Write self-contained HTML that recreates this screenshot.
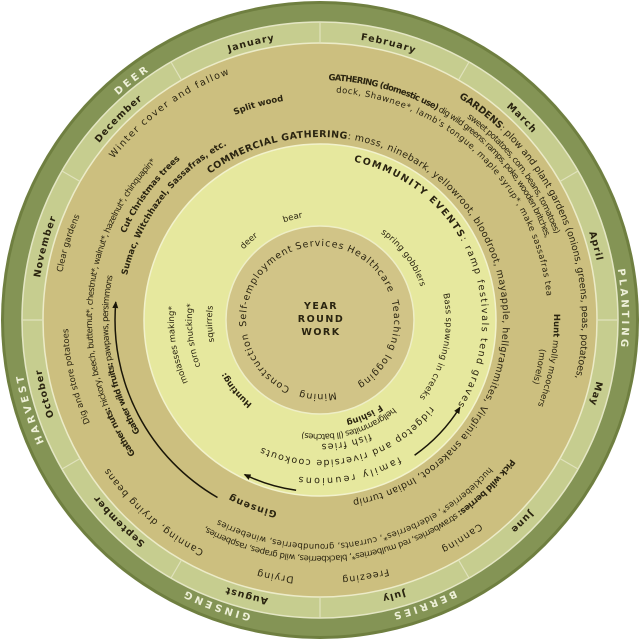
<!DOCTYPE html>
<html><head><meta charset="utf-8"><style>
html,body{margin:0;padding:0;background:#fff;}
svg{display:block;}
text{font-family:"DejaVu Sans","Liberation Sans",sans-serif;fill:#2a2410;}
.m{font-size:9.5px;font-weight:bold;letter-spacing:1px;}
.s{font-size:10px;font-weight:bold;fill:#eef0d8;letter-spacing:3px;}
.t{font-size:8.5px;}
.b{font-size:8.5px;font-weight:bold;}
.w{font-size:9.5px;letter-spacing:1px;}
</style></head><body>
<svg width="640" height="640" viewBox="0 0 640 640" xmlns="http://www.w3.org/2000/svg">
<defs>
<path id="r302" d="M320,18a302,302 0 1 1 0,604a302,302 0 1 1 0,-604a302,302 0 1 1 0,604a302,302 0 1 1 0,-604"/>
<path id="r283" d="M320,37a283,283 0 1 1 0,566a283,283 0 1 1 0,-566a283,283 0 1 1 0,566a283,283 0 1 1 0,-566"/>
<path id="r262" d="M320,58a262,262 0 1 1 0,524a262,262 0 1 1 0,-524a262,262 0 1 1 0,524a262,262 0 1 1 0,-524"/>
<path id="r258" d="M320,62a258,258 0 1 1 0,516a258,258 0 1 1 0,-516a258,258 0 1 1 0,516a258,258 0 1 1 0,-516"/>
<path id="r252" d="M320,68a252,252 0 1 1 0,504a252,252 0 1 1 0,-504a252,252 0 1 1 0,504a252,252 0 1 1 0,-504"/>
<path id="r250" d="M320,70a250,250 0 1 1 0,500a250,250 0 1 1 0,-500a250,250 0 1 1 0,500a250,250 0 1 1 0,-500"/>
<path id="r240" d="M320,80a240,240 0 1 1 0,480a240,240 0 1 1 0,-480a240,240 0 1 1 0,480a240,240 0 1 1 0,-480"/>
<path id="r236" d="M320,84a236,236 0 1 1 0,472a236,236 0 1 1 0,-472a236,236 0 1 1 0,472a236,236 0 1 1 0,-472"/>
<path id="r234" d="M320,86a234,234 0 1 1 0,468a234,234 0 1 1 0,-468a234,234 0 1 1 0,468a234,234 0 1 1 0,-468"/>
<path id="r228" d="M320,92a228,228 0 1 1 0,456a228,228 0 1 1 0,-456a228,228 0 1 1 0,456a228,228 0 1 1 0,-456"/>
<path id="r224" d="M320,96a224,224 0 1 1 0,448a224,224 0 1 1 0,-448a224,224 0 1 1 0,448a224,224 0 1 1 0,-448"/>
<path id="r222" d="M320,98a222,222 0 1 1 0,444a222,222 0 1 1 0,-444a222,222 0 1 1 0,444a222,222 0 1 1 0,-444"/>
<path id="r213" d="M320,107a213,213 0 1 1 0,426a213,213 0 1 1 0,-426a213,213 0 1 1 0,426a213,213 0 1 1 0,-426"/>
<path id="r212" d="M320,108a212,212 0 1 1 0,424a212,212 0 1 1 0,-424a212,212 0 1 1 0,424a212,212 0 1 1 0,-424"/>
<path id="r198" d="M320,122a198,198 0 1 1 0,396a198,198 0 1 1 0,-396a198,198 0 1 1 0,396a198,198 0 1 1 0,-396"/>
<path id="r196" d="M320,124a196,196 0 1 1 0,392a196,196 0 1 1 0,-392a196,196 0 1 1 0,392a196,196 0 1 1 0,-392"/>
<path id="r183" d="M320,137a183,183 0 1 1 0,366a183,183 0 1 1 0,-366a183,183 0 1 1 0,366a183,183 0 1 1 0,-366"/>
<path id="r162" d="M320,158a162,162 0 1 1 0,324a162,162 0 1 1 0,-324a162,162 0 1 1 0,324a162,162 0 1 1 0,-324"/>
<path id="r158" d="M320,162a158,158 0 1 1 0,316a158,158 0 1 1 0,-316a158,158 0 1 1 0,316a158,158 0 1 1 0,-316"/>
<path id="r146" d="M320,174a146,146 0 1 1 0,292a146,146 0 1 1 0,-292a146,146 0 1 1 0,292a146,146 0 1 1 0,-292"/>
<path id="r140" d="M320,180a140,140 0 1 1 0,280a140,140 0 1 1 0,-280a140,140 0 1 1 0,280a140,140 0 1 1 0,-280"/>
<path id="r128" d="M320,192a128,128 0 1 1 0,256a128,128 0 1 1 0,-256a128,128 0 1 1 0,256a128,128 0 1 1 0,-256"/>
<path id="r126" d="M320,194a126,126 0 1 1 0,252a126,126 0 1 1 0,-252a126,126 0 1 1 0,252a126,126 0 1 1 0,-252"/>
<path id="r124" d="M320,196a124,124 0 1 1 0,248a124,124 0 1 1 0,-248a124,124 0 1 1 0,248a124,124 0 1 1 0,-248"/>
<path id="r114" d="M320,206a114,114 0 1 1 0,228a114,114 0 1 1 0,-228a114,114 0 1 1 0,228a114,114 0 1 1 0,-228"/>
<path id="r108" d="M320,212a108,108 0 1 1 0,216a108,108 0 1 1 0,-216a108,108 0 1 1 0,216a108,108 0 1 1 0,-216"/>
<path id="r106" d="M320,214a106,106 0 1 1 0,212a106,106 0 1 1 0,-212a106,106 0 1 1 0,212a106,106 0 1 1 0,-212"/>
<path id="r104" d="M320,216a104,104 0 1 1 0,208a104,104 0 1 1 0,-208a104,104 0 1 1 0,208a104,104 0 1 1 0,-208"/>
<path id="r74" d="M320,246a74,74 0 1 1 0,148a74,74 0 1 1 0,-148a74,74 0 1 1 0,148a74,74 0 1 1 0,-148"/>
<marker id="ah" markerWidth="8" markerHeight="8" refX="6" refY="4" orient="auto" markerUnits="userSpaceOnUse"><path d="M0,1 L7,4 L0,7 z" fill="#1a1608"/></marker>
</defs>

<circle cx="320" cy="320" r="319" fill="#6f7f40"/>
<circle cx="320" cy="320" r="316" fill="#849455"/>
<circle cx="320" cy="320" r="298" fill="#c6cd8f" stroke="#e4e6c4" stroke-width="1.5"/>
<circle cx="320" cy="320" r="277" fill="#ccbf7f" stroke="#ecebc8" stroke-width="1.5"/>
<g stroke="#e0e2bc" stroke-width="1.2">
<line x1="320" y1="22" x2="320" y2="43"/>
<line x1="469" y1="62" x2="458.5" y2="80.1"/>
<line x1="578" y1="171" x2="559.9" y2="181.5"/>
<line x1="618" y1="320" x2="597" y2="320"/>
<line x1="578" y1="469" x2="559.9" y2="458.5"/>
<line x1="469" y1="578" x2="458.5" y2="559.9"/>
<line x1="320" y1="618" x2="320" y2="597"/>
<line x1="171" y1="578" x2="181.5" y2="559.9"/>
<line x1="62" y1="469" x2="80.1" y2="458.5"/>
<line x1="22" y1="320" x2="43" y2="320"/>
<line x1="62" y1="171" x2="80.1" y2="181.5"/>
<line x1="171" y1="62" x2="181.5" y2="80.1"/>
</g>
<circle cx="320" cy="320" r="176" fill="#e6e89e" stroke="#f2f2cc" stroke-width="1.5"/>
<circle cx="320" cy="320" r="94" fill="#d1c487" stroke="#eeeec6" stroke-width="1.5"/>

<text class="s"><textPath href="#r302" startOffset="44.72%" text-anchor="middle">DEER</textPath></text>
<text class="s"><textPath href="#r302" startOffset="62.22%" text-anchor="middle">PLANTING</textPath></text>
<text class="s"><textPath href="#r302" startOffset="72.22%" text-anchor="middle">BERRIES</textPath></text>
<text class="s"><textPath href="#r302" startOffset="77.78%" text-anchor="middle">GINSENG</textPath></text>
<text class="s"><textPath href="#r302" startOffset="85.14%" text-anchor="middle">HARVEST</textPath></text>

<text class="m"><textPath href="#r283" startOffset="48.06%" text-anchor="middle">January</textPath></text>
<text class="m"><textPath href="#r283" startOffset="51.94%" text-anchor="middle">February</textPath></text>
<text class="m"><textPath href="#r283" startOffset="56.25%" text-anchor="middle">March</textPath></text>
<text class="m"><textPath href="#r283" startOffset="60.42%" text-anchor="middle">April</textPath></text>
<text class="m"><textPath href="#r283" startOffset="64.58%" text-anchor="middle">May</textPath></text>
<text class="m"><textPath href="#r283" startOffset="68.75%" text-anchor="middle">June</textPath></text>
<text class="m"><textPath href="#r283" startOffset="72.92%" text-anchor="middle">July</textPath></text>
<text class="m"><textPath href="#r283" startOffset="77.08%" text-anchor="middle">August</textPath></text>
<text class="m"><textPath href="#r283" startOffset="81.25%" text-anchor="middle">September</textPath></text>
<text class="m"><textPath href="#r283" startOffset="85.42%" text-anchor="middle">October</textPath></text>
<text class="m"><textPath href="#r283" startOffset="89.58%" text-anchor="middle">November</textPath></text>
<text class="m"><textPath href="#r283" startOffset="43.75%" text-anchor="middle">December</textPath></text>

<text class="w"><textPath href="#r262" startOffset="54.44%" textLength="325" lengthAdjust="spacing"><tspan font-weight="bold">GARDENS</tspan>: plow and plant gardens (onions, greens, peas, potatoes,</textPath></text>
<text class="t"><textPath href="#r250" startOffset="55%" textLength="148" lengthAdjust="spacing">sweet potatoes, corn, beans, tomatoes)</textPath></text>
<text class="t"><textPath href="#r240" startOffset="50.28%" textLength="285" lengthAdjust="spacing"><tspan font-weight="bold">GATHERING (domestic use)</tspan> dig wild greens: ramps, poke, wooden britches,</textPath></text>
<text class="t"><textPath href="#r228" startOffset="50.56%" textLength="318" lengthAdjust="spacing">dock, Shawnee*, lamb's tongue, maple syrup*, make sassafras tea</textPath></text>
<text class="w"><textPath href="#r183" startOffset="44.86%" textLength="661" lengthAdjust="spacing"><tspan font-weight="bold">COMMERCIAL GATHERING</tspan>: moss, ninebark, yellowroot, bloodroot, mayapple, hellgrammites, Virginia snakeroot, Indian turnip</textPath></text>
<text class="w"><textPath href="#r262" startOffset="42.78%" textLength="146" lengthAdjust="spacing">Winter cover and fallow</textPath></text>
<text class="t"><textPath href="#r262" startOffset="39.86%" text-anchor="middle">Clear gardens</textPath></text>
<text class="t"><textPath href="#r252" startOffset="85.69%" text-anchor="middle">Dig and store potatoes</textPath></text>
<text class="t"><textPath href="#r228" startOffset="82.5%" textLength="318" lengthAdjust="spacing"><tspan font-weight="bold">Gather nuts:</tspan> hickory, beech, butternut*, chestnut*, walnut*, hazelnut*, chinquapin*</textPath></text>
<text class="t"><textPath href="#r212" startOffset="83.06%" textLength="163" lengthAdjust="spacing"><tspan font-weight="bold">Gather wild fruits:</tspan> pawpaws, persimmons</textPath></text>
<text class="b"><textPath href="#r198" startOffset="39.31%" textLength="169" lengthAdjust="spacing">Sumac, Witchhazel, Sassafras, etc.</textPath></text>
<text class="b"><textPath href="#r213" startOffset="40.83%" textLength="93" lengthAdjust="spacing">Cut Christmas trees</textPath></text>
<text class="b"><textPath href="#r222" startOffset="47.78%" text-anchor="middle">Split wood</textPath></text>
<text class="t"><textPath href="#r234" startOffset="63.89%" text-anchor="middle"><tspan font-weight="bold">Hunt</tspan> molly moochers</textPath></text>
<text class="t"><textPath href="#r222" startOffset="64.17%" text-anchor="middle">(morels)</textPath></text>
<text class="t"><textPath href="#r236" startOffset="67.5%" textLength="342" lengthAdjust="spacing"><tspan font-weight="bold">Pick wild berries:</tspan> strawberries, red mulberries*, blackberries, wild grapes, raspberries,</textPath></text>
<text class="t"><textPath href="#r224" startOffset="68.19%" textLength="297" lengthAdjust="spacing">huckleberries*, elderberries*, currants, groundberries, wineberries</textPath></text>
<text class="w"><textPath href="#r258" startOffset="70.42%" text-anchor="middle">Canning</textPath></text>
<text class="w"><textPath href="#r258" startOffset="73.61%" text-anchor="middle">Freezing</textPath></text>
<text class="w"><textPath href="#r258" startOffset="76.39%" text-anchor="middle">Drying</textPath></text>
<text class="w"><textPath href="#r258" startOffset="80.69%" text-anchor="middle">Canning, drying beans</textPath></text>
<text class="m"><textPath href="#r196" startOffset="77.78%" text-anchor="middle">Ginseng</textPath></text>

<path d="M217.5,497.5 A205,205 0 0 1 115.8,302.1" fill="none" stroke="#1a1608" stroke-width="1.5" marker-end="url(#ah)"/>
<path d="M414.6,455.2 A165,165 0 0 0 459.9,407.4" fill="none" stroke="#1a1608" stroke-width="1.5" marker-end="url(#ah)"/>
<path d="M296.1,490.3 A172,172 0 0 1 244.6,474.6" fill="none" stroke="#1a1608" stroke-width="1.5" marker-end="url(#ah)"/>

<text class="w"><textPath href="#r162" startOffset="51.67%" textLength="311" lengthAdjust="spacing"><tspan font-weight="bold">COMMUNITY EVENTS</tspan>: ramp festivals tend graves</textPath></text>
<text class="w"><textPath href="#r158" startOffset="70.83%" textLength="105" lengthAdjust="spacing">family reunions</textPath></text>
<text class="w"><textPath href="#r140" startOffset="67.78%" textLength="188" lengthAdjust="spacing">ridgetop and riverside cookouts</textPath></text>
<text class="w"><textPath href="#r124" startOffset="73.33%" text-anchor="middle">fish fries</textPath></text>
<text class="t"><textPath href="#r114" startOffset="69.44%" textLength="98" lengthAdjust="spacing">hellgrammites (ll batches)</textPath></text>
<text class="b"><textPath href="#r104" startOffset="71.53%" text-anchor="middle">F ishing</textPath></text>
<text class="t"><textPath href="#r126" startOffset="60.83%" textLength="110" lengthAdjust="spacing">Bass spawning in creeks</textPath></text>
<text class="t"><textPath href="#r106" startOffset="54.86%" textLength="68" lengthAdjust="spacing">spring gobblers</textPath></text>
<text class="t"><textPath href="#r104" startOffset="44.17%" text-anchor="middle">deer</textPath></text>
<text class="t"><textPath href="#r104" startOffset="47.92%" text-anchor="middle">bear</textPath></text>
<text class="t"><textPath href="#r108" startOffset="37.22%" text-anchor="middle">squirrels</textPath></text>
<text class="t"><textPath href="#r128" startOffset="36.53%" text-anchor="middle">corn shucking*</textPath></text>
<text class="t"><textPath href="#r146" startOffset="36.11%" text-anchor="middle">molasses making*</textPath></text>
<text class="b"><textPath href="#r108" startOffset="81.94%" text-anchor="middle">Hunting:</textPath></text>

<text class="w"><textPath href="#r74" startOffset="50%" text-anchor="middle">Services</textPath></text>
<text class="w"><textPath href="#r74" startOffset="56.25%" text-anchor="middle">Healthcare</textPath></text>
<text class="w"><textPath href="#r74" startOffset="60.42%" textLength="97" lengthAdjust="spacing">Teaching logging</textPath></text>
<text class="w"><textPath href="#r74" startOffset="75.28%" text-anchor="middle">Mining</textPath></text>
<text class="w"><textPath href="#r74" startOffset="82.22%" text-anchor="middle">Construction</textPath></text>
<text class="w"><textPath href="#r74" startOffset="41.94%" text-anchor="middle">Self-employment</textPath></text>
<g font-size="9.5" font-weight="bold" text-anchor="middle" letter-spacing="1.5">
<text x="321" y="309">YEAR</text>
<text x="321" y="322">ROUND</text>
<text x="321" y="335">WORK</text>
</g>
</svg>
</body></html>
